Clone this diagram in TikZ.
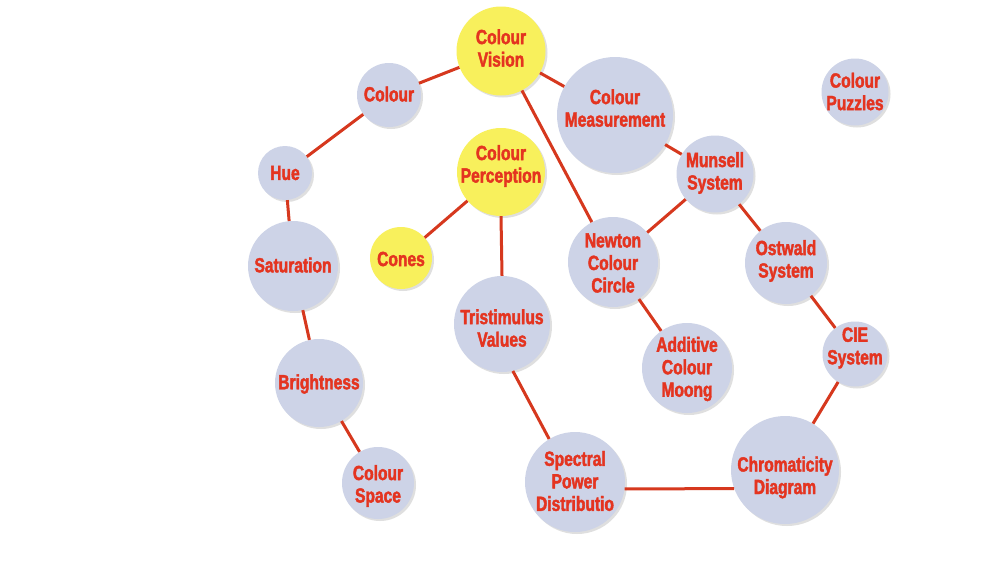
\documentclass[tikz,border=0pt]{standalone}
\usepackage{fontspec}
\setmainfont{Liberation Sans}[FakeStretch=0.76, BoldFeatures={FakeBold=2}]
\usetikzlibrary{shadows}
\definecolor{txtred}{RGB}{228,52,32}
\definecolor{linered}{RGB}{214,56,30}
\definecolor{lav}{RGB}{205,211,231}
\definecolor{yel}{RGB}{248,240,92}
\tikzset{
  bub/.style={circle, fill=lav, inner sep=0pt,
    drop shadow={shadow xshift=2pt, shadow yshift=-2pt, opacity=0.25, fill=gray}},
  ybub/.style={bub, fill=yel},
  lbl/.style={inner sep=0pt, align=center, text=txtred,
    font=\bfseries\fontsize{20.5}{22.5}\selectfont},
  link/.style={draw=linered, line width=3pt}
}
\begin{document}
\begin{tikzpicture}[x=1pt,y=-1pt]
\useasboundingbox[fill=white] (0,0) rectangle (1000,563);
% circles
\node[ybub, minimum size=89pt] (vision) at (501,51) {};
\node[bub, minimum size=64pt] (colour) at (389,95) {};
\node[bub, minimum size=116pt] (meas) at (615,115) {};
\node[bub, minimum size=67pt] (puzzles) at (855,92) {};
\node[bub, minimum size=54pt] (hue) at (285,173) {};
\node[ybub, minimum size=88pt] (percep) at (501,172) {};
\node[bub, minimum size=77pt] (munsell) at (715,174) {};
\node[ybub, minimum size=62pt] (cones) at (401,258) {};
\node[bub, minimum size=90pt] (newton) at (613,262) {};
\node[bub, minimum size=90pt] (sat) at (293,266) {};
\node[bub, minimum size=82pt] (ostwald) at (786,263) {};
\node[bub, minimum size=96pt] (tri) at (502,324) {};
\node[bub, minimum size=90pt] (add) at (687,368) {};
\node[bub, minimum size=65pt] (cie) at (855,354) {};
\node[bub, minimum size=88pt] (bright) at (319,383) {};
\node[bub, minimum size=72pt] (space) at (378,483) {};
\node[bub, minimum size=100pt] (spd) at (575,482) {};
\node[bub, minimum size=108pt] (chrom) at (785,470) {};
% labels
\node[lbl] (visionT) at (501,48) {Colour\\Vision};
\node[lbl] (colourT) at (389,94) {Colour};
\node[lbl] (measT) at (615,108) {Colour\\Measurement};
\node[lbl] (puzzlesT) at (855,91.5) {Colour\\Puzzles};
\node[lbl] (hueT) at (285,173) {Hue};
\node[lbl] (percepT) at (501,166) {Colour\\Perception};
\node[lbl] (munsellT) at (715,173) {Munsell\\System};
\node[lbl] (conesT) at (401,259) {Cones};
\node[lbl] (newtonT) at (613,263) {Newton\\Colour\\Circle};
\node[lbl] (satT) at (293,265) {Saturation};
\node[lbl] (ostwaldT) at (786,261) {Ostwald\\System};
\node[lbl] (triT) at (502,328) {Tristimulus\\Values};
\node[lbl] (addT) at (687,369) {Additive\\Colour\\Moong};
\node[lbl] (cieT) at (855,348) {CIE\\System};
\node[lbl] (brightT) at (319,384) {Brightness};
\node[lbl] (spaceT) at (378,486) {Colour\\Space};
\node[lbl] (spdT) at (575,481) {Spectral\\Power\\Distributio};
\node[lbl] (chromT) at (785,477.5) {Chromaticity\\Diagram};
% links
\draw[link] (colour) -- (vision);
\draw[link] (colour) -- (hue);
\draw[link] (hue) -- (sat);
\draw[link] (sat) -- (bright);
\draw[link] (bright) -- (space);
\draw[link] (vision) -- (meas);
\draw[link] (vision) -- (newton);
\draw[link] (percep) -- (cones);
\draw[link] (percep.south) -- (tri.north);
\draw[link] (tri.-77) -- (spd.121.5);
\draw[link] (spd.-8) -- (chrom.200.6);
\draw[link] (chrom) -- (cie);
\draw[link] (cie) -- (ostwald);
\draw[link] (ostwald) -- (munsell);
\draw[link] (munsell) -- (meas);
\draw[link] (munsell) -- (newton);
\draw[link] (newton) -- (add);
\end{tikzpicture}
\end{document}
